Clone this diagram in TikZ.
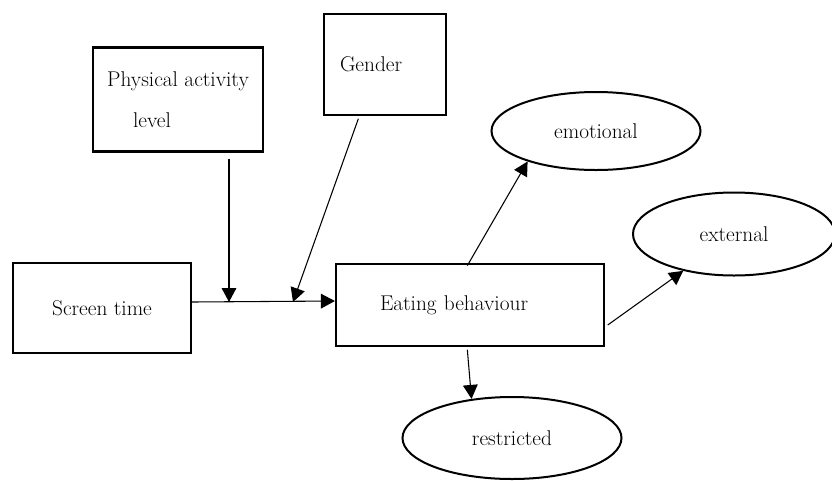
\documentclass[tikz,border=0pt]{standalone}
\usepackage{tikz}
\usetikzlibrary{shapes.geometric,arrows.meta,positioning,calc}

\begin{document}
\begin{tikzpicture}[x=0.75pt,y=-0.75pt,font=\fontsize{16}{19}\selectfont,
    box/.style={draw,line width=1.6pt,inner sep=0pt},
    oval/.style={ellipse,draw,line width=1.5pt,inner sep=0pt},
    arr/.style={-{Triangle[length=10.5pt,width=11pt]},line width=0.8pt}]
    \useasboundingbox (0,0) rectangle (832,480);
    \node[box,minimum width=127.5pt,minimum height=78pt,align=left] (phys) at (178,99.5) {Physical activity\\[12pt]\hspace*{19.5pt}level};
    \node[box,minimum width=91.5pt,minimum height=75.75pt,text width=67.5pt,align=left] (gender) at (385,64.5) {Gender};
    \node[box,minimum width=133.5pt,minimum height=67.5pt] (screen) at (102,308) {Screen time};
    \node[box,minimum width=201pt,minimum height=61.5pt,text width=135pt,align=left] (eating) at (470,305) {Eating behaviour};
    \node[oval,minimum width=156.75pt,minimum height=58.5pt] (emotional) at (596,131) {emotional};
    \node[oval,minimum width=151.5pt,minimum height=62.25pt] (external) at (734,234) {external};
    \node[oval,minimum width=164.25pt,minimum height=61.5pt] (restricted) at (512,438) {restricted};
    \coordinate (phys-hit) at (229,302);
    \coordinate (gender-hit) at (293,302);
    \draw[arr] ([yshift=4.5pt]screen.east) -- ([yshift=3pt]eating.west);
    \draw[arr,shorten <=4.5pt] (phys-hit |- phys.south) -- (phys-hit);
    \draw[arr] ([xshift=-20pt,yshift=-2pt]gender.south) -- (gender-hit);
    \draw[arr] ([xshift=-2pt,yshift=-2pt]eating.north) -- (emotional.204);
    \draw[arr] ([xshift=2pt,yshift=-15pt]eating.east) -- (external.216);
    \draw[arr] ([xshift=-2pt,yshift=-2pt]eating.south) -- (restricted.136);
  \end{tikzpicture}
\end{document}
